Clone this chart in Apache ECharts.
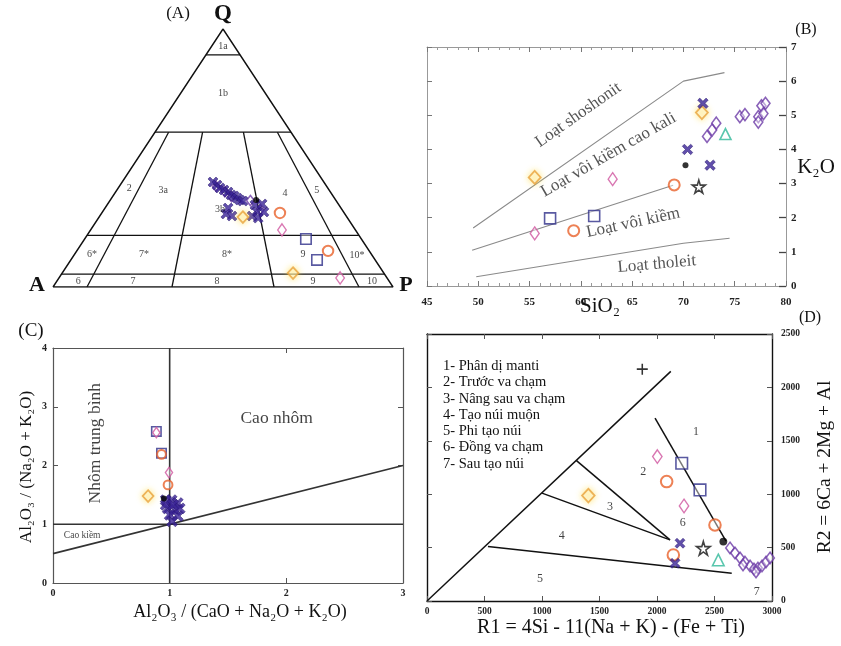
<!DOCTYPE html>
<html><head><meta charset="utf-8">
<script src="https://cdn.jsdelivr.net/npm/echarts@6/dist/echarts.min.js"></script>
<style>html,body{margin:0;padding:0;background:#fff}#c{width:841px;height:646px}</style>
</head><body><div id="c"></div><script>
const FONT = '"Liberation Serif","Times New Roman","DejaVu Serif",serif';

// ================= Panel A : QAP ternary, values [Q, A, P] in % =================
const aQLevels = [90, 60, 20, 5];
const aRatioLevels = [10, 35, 65, 90];            // P/(A+P) in %
const aCross = [[40.7,32.6,26.7],[39.5,32.0,28.5],[38.4,31.7,29.9],[37.6,30.9,31.5],[36.8,30.1,33.1],
  [35.7,29.8,34.5],[35.3,29.1,35.6],[34.5,28.6,36.9],[33.7,28.2,38.1],[33.3,27.5,39.2],[30.6,33.2,36.2],
  [28.3,35.0,36.7],[27.5,33.6,38.9],[31.8,24.7,43.5],[29.1,25.4,45.5],[27.5,27.7,44.8],[32.2,22.4,45.4],
  [29.1,23.4,47.5],[26.7,26.3,47.0]];
const aViolet = [[39.0,32.5,28.5],[37.0,31.0,32.0],[35.0,30.0,35.0],[33.5,25.2,41.3],[30.0,24.0,46.0]];
const aOrange = [[28.7,18.9,52.4],[14.0,12.1,73.9]];
const aPink   = [[22.1,21.6,56.3],[3.5,13.8,82.7]];
const aSquare = [[18.6,16.3,65.1],[10.5,17.1,72.4]];
const aYellow = [[5.4,26.7,67.9],[27.1,30.6,42.3]];
const aDot    = [[33.7,23.4,42.9]];
const aFieldNames = ['1a','1b','2','3a','3b','4','5','6*','7*','8*','9','10*','6','7','8','9','10'];

// ================= Panel B : SiO2 vs K2O =================
const bShoshonite = [[49.5,1.7],[70,6.0],[74,6.25]];
const bHighK      = [[49.4,1.05],[69,2.95]];
const bTholeiite  = [[49.8,0.27],[70,1.25],[74.5,1.4]];
const bYellow = [[55.5,3.18],[71.8,5.08]];
const bPink   = [[63.1,3.13],[55.5,1.54]];
const bSquare = [[57.0,1.98],[61.3,2.05]];
const bOrange = [[59.3,1.62],[69.1,2.96]];
const bCross  = [[71.9,5.35],[70.4,4.0],[72.6,3.54]];
const bDot    = [[70.2,3.54]];
const bStar   = [[71.5,2.91]];
const bTri    = [[74.1,4.45]];
const bViolet = [[72.3,4.38],[72.8,4.57],[73.2,4.77],[75.5,4.96],[76.0,5.02],[77.3,4.96],[77.3,4.80],
  [77.6,5.28],[78.0,5.35],[77.8,5.05]];

// ================= Panel C : A/CNK vs A/NK =================
const cVertical = [[1,0],[1,4]];
const cHorizontal = [[0,1],[3,1]];
const cDiagonal = [[0,0.5],[3,2]];
const cSquare = [[0.886,2.58],[0.93,2.21]];
const cPink   = [[0.886,2.56],[0.994,1.88]];
const cOrange = [[0.93,2.19],[0.986,1.67]];
const cYellow = [[0.815,1.48]];
const cCross  = [[0.966,1.41],[1.017,1.41],[1.069,1.36],[0.983,1.27],[1.05,1.24],[1.0,1.16],
  [1.07,1.14],[1.02,1.05],[0.966,1.33],[1.086,1.27],[1.03,1.33]];
const cDot    = [[0.95,1.44]];

// ================= Panel D : R1 vs R2 =================
const dDiagonal = [[0,0],[2120,2150]];
const dLine45 = [[530,510],[2650,260]];
const dLine34 = [[1000,1010],[2113,572]];
const dLine23 = [[1300,1315],[2113,572]];
const dLine12 = [[1983,1712],[2600,560]];
const dPlus   = [[1872,2171]];
const dPink   = [[2003,1352],[2235,890]];
const dSquare = [[2215,1290],[2374,1040]];
const dOrange = [[2084,1118],[2504,712],[2142,431]];
const dYellow = [[1403,987]];
const dCross  = [[2200,541],[2157,353]];
const dStar   = [[2403,494]];
const dTri    = [[2533,384]];
const dDot    = [[2577,556]];
const dViolet = [[2635,497],[2678,450],[2722,403],[2765,365],[2809,328],[2843,300],[2878,309],
  [2913,328],[2948,365],[2983,403],[2748,337],[2861,272]];
const dLegend = ['1- Phân dị manti','2- Trước va chạm','3- Nâng sau va chạm','4- Tạo núi muộn',
  '5- Phi tạo núi','6- Đồng va chạm','7- Sau tạo núi'];

// ---------- helpers ----------
function tern(p){ const Q=p[0], P=p[2]; return [P/100 + Q/200, Q/100]; }
const CROSS = 'path://M0,2 L2,0 L5,3 L8,0 L10,2 L7,5 L10,8 L8,10 L5,7 L2,10 L0,8 L3,5 Z';
const STAR = 'path://M50,0 L61,35 L98,35 L68,57 L79,91 L50,70 L21,91 L32,57 L2,35 L39,35 Z';
const PLUS = 'path://M4.3,0 H5.7 V4.3 H10 V5.7 H5.7 V10 H4.3 V5.7 H0 V4.3 H4.3 Z';
const HOLLOW = 'rgba(255,255,255,0.55)';
const ST = {
  cross:  {symbol:CROSS, size:[10,10], it:{color:'#3a2396', borderColor:'#24126a', borderWidth:0.6}},
  violet: {symbol:'diamond', size:[9,12], it:{color:HOLLOW, borderColor:'#6b3aa6', borderWidth:1.6}},
  pink:   {symbol:'diamond', size:[9,13], it:{color:HOLLOW, borderColor:'#d0559f', borderWidth:1.4}},
  orange: {symbol:'circle', size:[11,11], it:{color:HOLLOW, borderColor:'#e8622a', borderWidth:2}},
  square: {symbol:'rect', size:[11,11], it:{color:HOLLOW, borderColor:'#30308a', borderWidth:1.6}},
  yellow: {symbol:'diamond', size:[12,13], it:{color:HOLLOW, borderColor:'#e9a23b', borderWidth:1.8, shadowBlur:6, shadowColor:'rgba(255,220,60,0.9)'}},
  tri:    {symbol:'triangle', size:[11,11], it:{color:HOLLOW, borderColor:'#2fb898', borderWidth:1.6}},
  star:   {symbol:STAR, size:[13,13], it:{color:'#fff', borderColor:'#111', borderWidth:1.6}},
  dot:    {symbol:'circle', size:[6,6], it:{color:'#000'}},
  plus:   {symbol:PLUS, size:[11,11], it:{color:'#000'}}
};
function pts(ax, kind, data, scale){
  const s = ST[kind];
  return {type:'scatter', xAxisIndex:ax[0], yAxisIndex:ax[1], data:data, symbol:s.symbol,
    symbolSize:[s.size[0]*scale, s.size[1]*scale], itemStyle:s.it, silent:true, z:5};
}
function line(ax, data, color, width){
  return {type:'line', xAxisIndex:ax[0], yAxisIndex:ax[1], data:data, symbol:'none', showSymbol:false,
    lineStyle:{color:color, width:width}, silent:true, z:3};
}
function texts(ax, items, size, color){
  return {type:'scatter', xAxisIndex:ax[0], yAxisIndex:ax[1], symbolSize:0, silent:true, z:6,
    itemStyle:{color:'transparent'},
    data: items.map(it => ({value:[it[1], it[2]], name:it[0],
      label:{show:true, position:'inside', formatter:'{b}', rotate:it[3]||0,
        fontFamily:FONT, fontSize:it[4]||size, color:color}}))};
}

const series = [];
// ---- Panel A ----
const AX = [0,0];
series.push(line(AX, [[0,100,0],[0,0,100],[100,0,0],[0,100,0]].map(tern), '#111', 1.4));
aQLevels.forEach(q => series.push(line(AX, [[q,100-q,0],[q,0,100-q]].map(tern), '#111', 1.3)));
aRatioLevels.forEach(r => series.push(line(AX,
  [[60, 40*(1-r/100), 40*r/100],[0, 100*(1-r/100), 100*r/100]].map(tern), '#111', 1.3)));
const aLabPos = [[0.5,0.934],[0.5,0.752],[0.224,0.384],[0.324,0.376],[0.491,0.302],[0.682,0.364],
  [0.776,0.376],[0.115,0.128],[0.268,0.128],[0.512,0.128],[0.735,0.128],[0.894,0.124],
  [0.074,0.02],[0.235,0.02],[0.482,0.02],[0.765,0.022],[0.938,0.02]];
series.push(texts(AX, aFieldNames.map((n,i)=>[n, aLabPos[i][0], aLabPos[i][1]]), 10, '#111'));
series.push(pts(AX,'violet', aViolet.map(tern), 0.85));
series.push(pts(AX,'cross', aCross.map(tern), 1.0));
series.push(pts(AX,'dot', aDot.map(tern), 1));
series.push(pts(AX,'orange', aOrange.map(tern), 0.95));
series.push(pts(AX,'pink', aPink.map(tern), 0.95));
series.push(pts(AX,'square', aSquare.map(tern), 0.95));
series.push(pts(AX,'yellow', aYellow.map(tern), 0.9));

// ---- Panel B ----
const BX = [1,1];
[bShoshonite, bHighK, bTholeiite].forEach(l => series.push(line(BX, l, '#8a8a8a', 1.1)));
series.push(texts(BX, [
  ['Loạt shoshonit', 59.75, 5.01, 35, 17],
  ['Loạt vôi kiềm cao kali', 62.7, 3.84, 30, 17],
  ['Loạt vôi kiềm', 65.1, 1.85, 12, 17],
  ['Loạt tholeit', 67.4, 0.64, 5, 17]], 17, '#2a2a2a'));
series.push(pts(BX,'yellow', bYellow, 1));
series.push(pts(BX,'pink', bPink, 1));
series.push(pts(BX,'square', bSquare, 1));
series.push(pts(BX,'orange', bOrange, 1));
series.push(pts(BX,'violet', bViolet, 1));
series.push(pts(BX,'cross', bCross, 1.05));
series.push(pts(BX,'dot', bDot, 1));
series.push(pts(BX,'star', bStar, 1));
series.push(pts(BX,'tri', bTri, 1));

// ---- Panel C ----
const CX = [3,3];
[cVertical, cHorizontal, cDiagonal].forEach(l => series.push(line(CX, l, '#333', 1.6)));
series.push(texts(CX, [
  ['Cao nhôm', 1.917, 2.81, 0, 17.5],
  ['Nhôm trung bình', 0.36, 2.38, 90, 17.5],
  ['Cao kiềm', 0.25, 0.81, 0, 9.5]], 17, '#111'));
series.push(pts(CX,'square', cSquare, 0.85));
series.push(pts(CX,'pink', cPink, 0.8));
series.push(pts(CX,'orange', cOrange, 0.8));
series.push(pts(CX,'yellow', cYellow, 0.9));
series.push(pts(CX,'cross', cCross, 1.1));
series.push(pts(CX,'dot', cDot, 1));

// ---- Panel D ----
const DX = [5,5];
[dDiagonal, dLine45, dLine34, dLine23, dLine12].forEach(l => series.push(line(DX, l, '#111', 1.5)));
series.push(texts(DX, [['1',2339,1587],['2',1881,1212],['3',1591,884],['4',1171,609],['5',983,203],
  ['6',2223,728],['7',2867,87]], 12, '#111'));
series.push(pts(DX,'pink', dPink, 1.05));
series.push(pts(DX,'square', dSquare, 1.05));
series.push(pts(DX,'orange', dOrange, 1.05));
series.push(pts(DX,'yellow', dYellow, 1.05));
series.push(pts(DX,'violet', dViolet, 0.95));
series.push(pts(DX,'cross', dCross, 1));
series.push(pts(DX,'star', dStar, 1.05));
series.push(pts(DX,'tri', dTri, 1.05));
series.push(pts(DX,'dot', dDot, 1.3));
series.push(pts(DX,'plus', dPlus, 1));

// ---------- axes ----------
function axisBase(grid, pos, min, max, interval, opts){
  return Object.assign({
    type:'value', gridIndex:grid, position:pos, min:min, max:max, interval:interval,
    axisLine:{show:true, onZero:false, lineStyle:{color:'#555', width:1.2}},
    axisTick:{show:true, inside:true, length:5, lineStyle:{color:'#555'}},
    axisLabel:{show:false}, splitLine:{show:false}
  }, opts||{});
}
const lbl = (margin, size) => ({show:true, margin:margin, fontFamily:FONT, fontSize:size, color:'#222',
  fontWeight:'bold', formatter: v => String(v)});
const grayLine = {show:true, onZero:false, lineStyle:{color:'#999', width:1}};
const grayTick = {show:true, inside:true, length:5, lineStyle:{color:'#777'}};
const grayMinor = {show:true, splitNumber:5, length:3, lineStyle:{color:'#999'}};
const blackLine = {show:true, onZero:false, lineStyle:{color:'#111', width:1.4}};

const xAxis = [
  {type:'value', gridIndex:0, min:0, max:1, show:false},
  axisBase(1,'bottom',45,80,5,{axisLine:grayLine, axisTick:grayTick, minorTick:grayMinor, axisLabel:lbl(11,11)}),
  axisBase(1,'top',45,80,5,{axisLine:grayLine, axisTick:grayTick, minorTick:grayMinor}),
  axisBase(2,'bottom',0,3,1,{axisLabel:lbl(5,10)}),
  axisBase(2,'top',0,3,1,{}),
  axisBase(3,'bottom',0,3000,500,{axisLine:blackLine, axisLabel:lbl(6,9.5)}),
  axisBase(3,'top',0,3000,500,{axisLine:blackLine})
];
const yAxis = [
  {type:'value', gridIndex:0, min:0, max:1, show:false},
  axisBase(1,'right',0,7,1,{axisLine:grayLine, axisTick:{show:true,inside:true,length:7,lineStyle:{color:'#444',width:1.3}}, axisLabel:lbl(5,11)}),
  axisBase(1,'left',0,7,1,{axisLine:grayLine, axisTick:grayTick}),
  axisBase(2,'left',0,4,1,{axisLabel:lbl(6,10)}),
  axisBase(2,'right',0,4,1,{}),
  axisBase(3,'right',0,2500,500,{axisLine:blackLine, axisLabel:lbl(9,9.5)}),
  axisBase(3,'left',0,2500,500,{axisLine:blackLine})
];

// ---------- free text ----------
function T(x, y, text, size, opts){
  return Object.assign({type:'text', x:x, y:y, silent:true, z:10,
    style:Object.assign({text:text, fontFamily:FONT, fontSize:size, fill:'#111', align:'center', verticalAlign:'middle'}, (opts&&opts.style)||{})},
    opts&&opts.el||{});
}
const graphic = [
  T(178, 14, '(A)', 17),
  T(223, 14, 'Q', 23, {style:{fontWeight:'bold'}}),
  T(37, 285, 'A', 22, {style:{fontWeight:'bold'}}),
  T(406, 285, 'P', 22, {style:{fontWeight:'bold'}}),
  T(806, 30, '(B)', 16),
  T(600, 306, 'SiO₂', 21),
  T(816, 167, 'K₂O', 21),
  T(31, 331, '(C)', 19),
  T(27, 467, 'Al₂O₃ / (Na₂O + K₂O)', 17, {el:{rotation:Math.PI/2}}),
  T(240, 612, 'Al₂O₃ / (CaO + Na₂O + K₂O)', 18),
  T(810, 318, '(D)', 16),
  T(825, 467, 'R2 = 6Ca + 2Mg + Al', 19.5, {el:{rotation:Math.PI/2}}),
  T(611, 628, 'R1 = 4Si - 11(Na + K) - (Fe + Ti)', 20),
  {type:'text', x:443, y:358, silent:true, z:10,
    style:{text:dLegend.join('\n'), fontFamily:FONT, fontSize:14.5, lineHeight:16.3, fill:'#111', align:'left', verticalAlign:'top'}}
];

const chart = echarts.init(document.getElementById('c'), null, {renderer:'canvas'});
chart.setOption({
  animation:false,
  backgroundColor:'#fff',
  grid:[
    {left:53, top:29, width:340, height:258, outerBoundsMode:'none'},
    {left:427, top:47, width:359, height:239, outerBoundsMode:'none'},
    {left:53, top:348, width:350, height:235, outerBoundsMode:'none'},
    {left:427, top:334, width:345, height:267, outerBoundsMode:'none'}
  ],
  xAxis:xAxis, yAxis:yAxis, series:series, graphic:graphic
});
</script></body></html>
